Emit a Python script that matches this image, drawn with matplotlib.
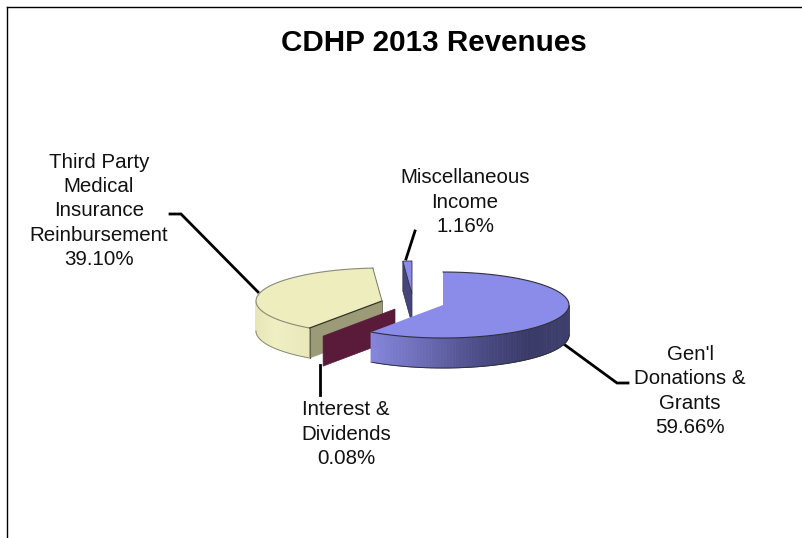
import numpy as np
import matplotlib
matplotlib.use("Agg")
import matplotlib.pyplot as plt
from matplotlib.patches import Polygon
from matplotlib.colors import to_rgb

plt.rcParams['font.family'] = ['Liberation Sans', 'DejaVu Sans']

title = "CDHP 2013 Revenues"
categories = ["Gen'l\nDonations &\nGrants", "Interest &\nDividends", "Third Party\nMedical\nInsurance\nReinbursement", "Miscellaneous\nIncome"]
values = [59.66, 0.08, 39.10, 1.16]
centres = [(443, 305), (395, 309), (382, 301), (412, 294)]
tops = ['#8b8bea', '#5a1a3a', '#ededbd', '#8b8bea']
faces = ['#8b8bea', '#5a1a3a', '#9b9b78', '#45457a']
RX, RY, DEPTH = 126, 33, 30

fig = plt.figure(figsize=(8.02, 5.38), dpi=100)
ax = fig.add_axes([0, 0, 1, 1])
ax.set_xlim(0, 802); ax.set_ylim(538, 0); ax.axis('off')

def pt(c, a):
    r = np.radians(a)
    return np.array([c[0] + RX*np.sin(r), c[1] - RY*np.cos(r)])

def arc(c, a0, a1, n=80):
    r = np.radians(np.linspace(a0, a1, n))
    return np.column_stack([c[0] + RX*np.sin(r), c[1] - RY*np.cos(r)])

def lerp(stops, t):
    xs = [s[0] for s in stops]
    cs = np.array([to_rgb(s[1]) for s in stops])
    return tuple(np.interp(t, xs, cs[:, i]) for i in range(3))

cum = np.concatenate([[0], np.cumsum(values)]) / np.sum(values) * 360
ang = [(cum[i], cum[i+1]) for i in range(4)]

def quad(c, a, col, z):
    p = pt(c, a)
    ax.add_patch(Polygon([c, p, p + (0, DEPTH), (c[0], c[1] + DEPTH)], closed=True,
                         fc=col, ec=col, lw=0.5, zorder=z))

def rim(c, a0, a1, stops, z, ec):
    pts = arc(c, a0, a1, 90)
    xmin, xmax = pts[:, 0].min(), pts[:, 0].max()
    for i in range(len(pts) - 1):
        t = (pts[i, 0] - xmin) / (xmax - xmin)
        col = lerp(stops, t)
        q = [pts[i], pts[i+1], pts[i+1] + (0, DEPTH), pts[i] + (0, DEPTH)]
        ax.add_patch(Polygon(q, closed=True, fc=col, ec=col, lw=0.6, zorder=z))
    ax.plot(pts[:, 0], pts[:, 1] + DEPTH, color=ec, lw=0.7, zorder=z + .1)

def top(c, a0, a1, col, z, ec='#30303a'):
    a = arc(c, a0, a1)
    ax.add_patch(Polygon(np.vstack([[c], a]), closed=True, fc=col, ec='none', zorder=z))
    ax.plot(a[:, 0], a[:, 1], color=ec, lw=0.8, zorder=z + .1)

# Third Party
c = centres[2]; a0, a1 = ang[2]
rim(c, a0, 270, [(0, '#e6e6b8'), (.35, '#efefc4'), (1, '#e8e8ba')], 2, '#8a8a78')
quad(c, a0, faces[2], 2.5)
top(c, a0, a1, tops[2], 3, '#8a8a78')
p = pt(c, a0)
ax.plot([p[0], c[0]], [p[1], c[1]], color='#333328', lw=0.9, zorder=3.2)
ax.plot([p[0], p[0]], [p[1], p[1] + DEPTH], color='#666655', lw=0.8, zorder=3.2)
ax.plot([c[0], c[0]], [c[1], c[1] + DEPTH], color='#666655', lw=0.6, zorder=3.2)
q = pt(c, a1)
ax.plot([q[0], c[0]], [q[1], c[1]], color='#777766', lw=0.7, zorder=3.2)

# Interest
quad(centres[1], ang[1][0], faces[1], 4)

# Misc
c = centres[3]; a0, a1 = ang[3]
p = pt(c, a0)
ax.add_patch(Polygon([p, c, (c[0], c[1] + DEPTH), p + (0, DEPTH)], closed=True,
                     fc=faces[3], ec='#303050', lw=0.5, zorder=5))
ax.add_patch(Polygon(np.vstack([[c], arc(c, a0, a1)]), closed=True,
                     fc=tops[3], ec='#303050', lw=0.6, zorder=5.2))

# Gen'l
c = centres[0]; a0, a1 = ang[0]
rim(c, 90, a1, [(0, '#8686de'), (.25, '#6e6eb8'), (.55, '#4c4c88'), (.8, '#3a3a68'), (1, '#3f3f6e')], 6, '#30303a')
top(c, a0, a1, tops[0], 6.5)
p = pt(c, a1)
ax.plot([p[0], p[0]], [p[1], p[1] + DEPTH], color='#8686de', lw=1, zorder=6.4)

# Leaders
leaders = [
    [(565, 345), (617, 383), (628, 383)],
    [(320, 365), (320, 395)],
    [(170, 214), (181, 214), (258, 292)],
    [(406, 259), (415, 231)],
]
for l in leaders:
    l = np.array(l)
    ax.plot(l[:, 0], l[:, 1], color='black', lw=2, zorder=1, solid_joinstyle='miter')

# Labels
pct = [f"{v:.2f}%" for v in values]
pos = [(690, 391), (346, 434), (99, 211), (465, 202)]
for cat, v, (x, y) in zip(categories, pct, pos):
    ax.text(x, y, f"{cat}\n{v}", ha='center', va='center', fontsize=14.8, color='#111111',
            linespacing=1.34, zorder=8)

ax.text(434, 43, title, ha='center', va='center', fontsize=21.3, fontweight='bold', color='black')

# Frame
ax.plot([7, 7], [538, 7], color='black', lw=1, zorder=9)
ax.plot([7, 802], [7, 7], color='black', lw=1, zorder=9)

fig.savefig('out.png', dpi=100)
